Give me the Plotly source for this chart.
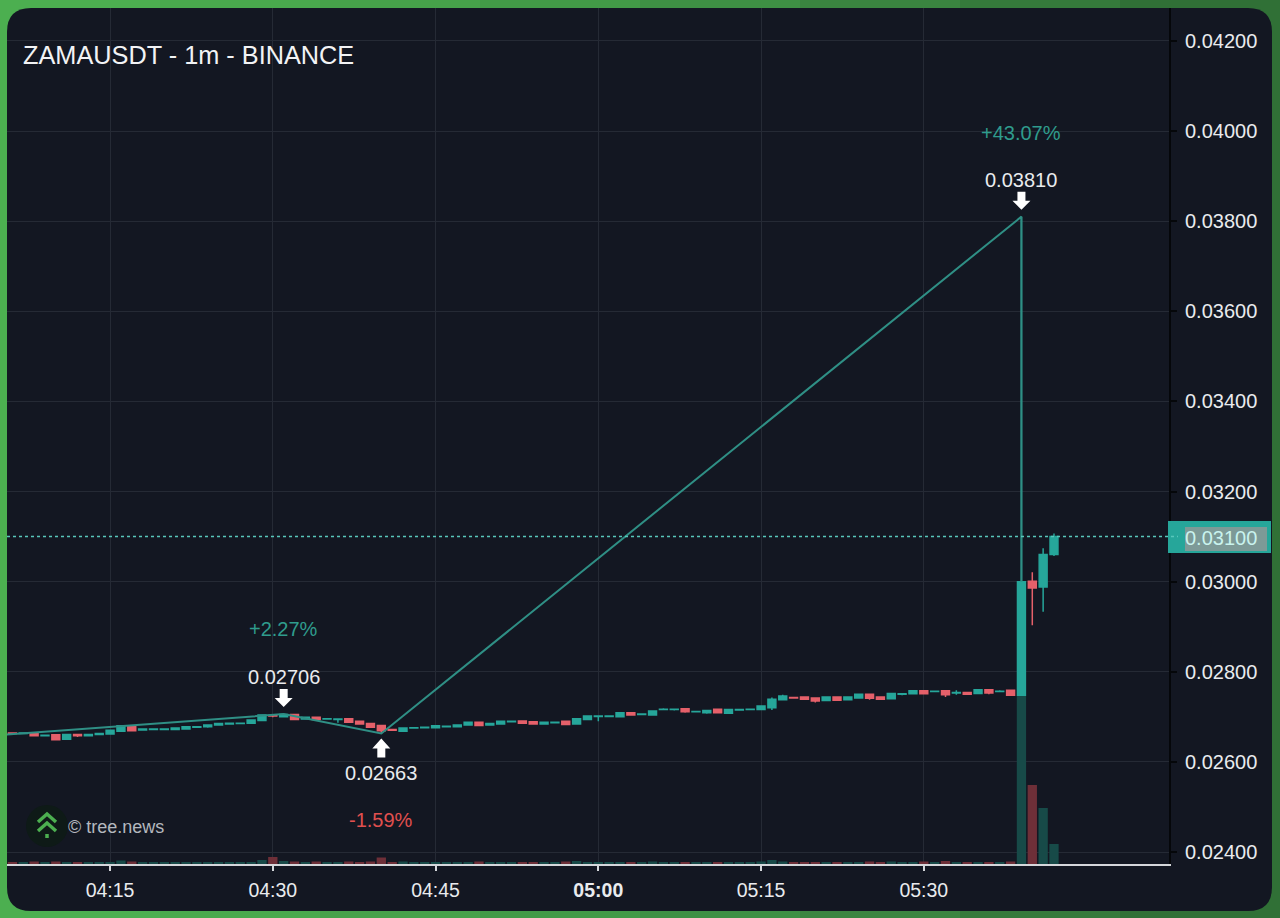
"""ZAMAUSDT 1m chart with zigzag swings, drawn with Plotly."""
from datetime import datetime, timedelta

import plotly.graph_objects as go

#### Data

start_time = datetime(2026, 2, 2, 4, 6)

opens = [
    0.02664, 0.02663, 0.02663, 0.02658, 0.02660, 0.02650, 0.02661, 0.02658, 0.02661, 0.02662,
    0.02668, 0.02678, 0.02671, 0.02672, 0.02672, 0.02672, 0.02673, 0.02677, 0.02678, 0.02682,
    0.02684, 0.02685, 0.02686, 0.02692, 0.02703, 0.02700, 0.02705, 0.02695, 0.02699, 0.02695,
    0.02694, 0.02696, 0.02690, 0.02685, 0.02681, 0.02672, 0.02668, 0.02675, 0.02676, 0.02676,
    0.02678, 0.02678, 0.02682, 0.02688, 0.02682, 0.02684, 0.02689, 0.02691, 0.02689, 0.02684,
    0.02687, 0.02690, 0.02684, 0.02694, 0.02701, 0.02701, 0.02700, 0.02709, 0.02705, 0.02704,
    0.02716, 0.02716, 0.02718, 0.02711, 0.02709, 0.02717, 0.02708, 0.02715, 0.02716, 0.02716,
    0.02720, 0.02738, 0.02743, 0.02744, 0.02742, 0.02736, 0.02744, 0.02738, 0.02742, 0.02750,
    0.02744, 0.02740, 0.02750, 0.02751, 0.02758, 0.02756, 0.02758, 0.02753, 0.02754, 0.02752,
    0.02760, 0.02756, 0.02759, 0.02748, 0.03001, 0.02988, 0.03060,
]
highs = [
    0.02665, 0.02664, 0.02664, 0.02660, 0.02660, 0.02662, 0.02662, 0.02661, 0.02663, 0.02670,
    0.02680, 0.02678, 0.02673, 0.02673, 0.02673, 0.02675, 0.02678, 0.02678, 0.02682, 0.02685,
    0.02686, 0.02686, 0.02693, 0.02704, 0.02706, 0.02706, 0.02705, 0.02699, 0.02699, 0.02696,
    0.02695, 0.02696, 0.02690, 0.02685, 0.02681, 0.02673, 0.02675, 0.02676, 0.02677, 0.02680,
    0.02679, 0.02682, 0.02688, 0.02688, 0.02685, 0.02690, 0.02690, 0.02691, 0.02689, 0.02688,
    0.02688, 0.02690, 0.02696, 0.02702, 0.02702, 0.02702, 0.02709, 0.02709, 0.02706, 0.02713,
    0.02719, 0.02717, 0.02718, 0.02712, 0.02714, 0.02717, 0.02716, 0.02716, 0.02717, 0.02724,
    0.02743, 0.02749, 0.02744, 0.02744, 0.02742, 0.02744, 0.02744, 0.02744, 0.02750, 0.02750,
    0.02744, 0.02752, 0.02751, 0.02758, 0.02758, 0.02757, 0.02758, 0.02759, 0.02754, 0.02760,
    0.02760, 0.02759, 0.02759, 0.03810, 0.03021, 0.03074, 0.03107,
]
lows = [
    0.02662, 0.02662, 0.02657, 0.02658, 0.02648, 0.02649, 0.02655, 0.02658, 0.02661, 0.02662,
    0.02668, 0.02669, 0.02671, 0.02672, 0.02672, 0.02672, 0.02673, 0.02675, 0.02676, 0.02682,
    0.02684, 0.02685, 0.02686, 0.02692, 0.02699, 0.02699, 0.02694, 0.02695, 0.02693, 0.02695,
    0.02687, 0.02688, 0.02684, 0.02677, 0.02663, 0.02669, 0.02668, 0.02675, 0.02676, 0.02676,
    0.02678, 0.02678, 0.02682, 0.02681, 0.02682, 0.02684, 0.02688, 0.02686, 0.02684, 0.02684,
    0.02687, 0.02683, 0.02683, 0.02694, 0.02690, 0.02701, 0.02700, 0.02704, 0.02705, 0.02704,
    0.02716, 0.02714, 0.02709, 0.02710, 0.02707, 0.02709, 0.02708, 0.02715, 0.02716, 0.02716,
    0.02715, 0.02738, 0.02741, 0.02739, 0.02732, 0.02736, 0.02737, 0.02738, 0.02742, 0.02738,
    0.02739, 0.02740, 0.02748, 0.02751, 0.02751, 0.02756, 0.02744, 0.02749, 0.02750, 0.02752,
    0.02750, 0.02756, 0.02748, 0.02748, 0.02903, 0.02933, 0.03057,
]
closes = [
    0.02663, 0.02664, 0.02658, 0.02659, 0.02649, 0.02661, 0.02658, 0.02661, 0.02663, 0.02670,
    0.02680, 0.02669, 0.02673, 0.02673, 0.02673, 0.02675, 0.02678, 0.02678, 0.02682, 0.02685,
    0.02686, 0.02686, 0.02693, 0.02704, 0.02702, 0.02705, 0.02694, 0.02699, 0.02694, 0.02696,
    0.02695, 0.02688, 0.02684, 0.02677, 0.02669, 0.02670, 0.02675, 0.02676, 0.02677, 0.02680,
    0.02679, 0.02682, 0.02688, 0.02681, 0.02685, 0.02690, 0.02690, 0.02686, 0.02684, 0.02688,
    0.02688, 0.02683, 0.02696, 0.02702, 0.02702, 0.02702, 0.02709, 0.02704, 0.02706, 0.02713,
    0.02717, 0.02717, 0.02711, 0.02712, 0.02714, 0.02709, 0.02716, 0.02716, 0.02717, 0.02724,
    0.02739, 0.02746, 0.02742, 0.02739, 0.02735, 0.02744, 0.02737, 0.02744, 0.02750, 0.02741,
    0.02739, 0.02752, 0.02751, 0.02758, 0.02751, 0.02757, 0.02749, 0.02754, 0.02750, 0.02760,
    0.02753, 0.02757, 0.02748, 0.03000, 0.02986, 0.03060, 0.03100,
]
volumes = [
    200, 150, 250, 150, 250, 200, 200, 150, 150, 200,
    350, 250, 150, 150, 200, 150, 150, 150, 200, 150,
    150, 150, 200, 400, 700, 300, 250, 150, 250, 200,
    150, 250, 200, 250, 650, 200, 250, 150, 150, 200,
    150, 150, 200, 250, 150, 200, 150, 200, 200, 150,
    150, 250, 300, 200, 150, 150, 200, 200, 150, 250,
    150, 150, 200, 150, 200, 200, 200, 150, 150, 250,
    400, 250, 200, 200, 200, 200, 200, 200, 200, 250,
    200, 250, 150, 200, 250, 150, 300, 150, 200, 200,
    200, 150, 250, 16850, 7900, 5600, 2000,
]

zigzag_times = [datetime(2026, 2, 2, 4, 5), datetime(2026, 2, 2, 4, 31), datetime(2026, 2, 2, 4, 40),
                datetime(2026, 2, 2, 5, 39), datetime(2026, 2, 2, 5, 39)]
zigzag_prices = [0.02660, 0.02706, 0.02663, 0.03810, 0.03000]

price_ticks = [0.024, 0.026, 0.028, 0.030, 0.032, 0.034, 0.036, 0.038, 0.040, 0.042]
price_labels = ["0.02400", "0.02600", "0.02800", "0.03000", "0.03200",
                "0.03400", "0.03600", "0.03800", "0.04000", "0.04200"]
time_ticks = [datetime(2026, 2, 2, 4, 15), datetime(2026, 2, 2, 4, 30), datetime(2026, 2, 2, 4, 45),
              datetime(2026, 2, 2, 5, 0), datetime(2026, 2, 2, 5, 15), datetime(2026, 2, 2, 5, 30)]
time_labels = ["04:15", "04:30", "04:45", "<b>05:00</b>", "05:15", "05:30"]

last_price = 0.03100
border_greens = ["#4caf50", "#49a94d", "#46a24a", "#429a47", "#3e9044", "#3a8540", "#357a3b", "#307036"]

# swing labels: time, price, text, percent, percent colour, shift of the text, shift of the percent
swings = [
    (datetime(2026, 2, 2, 4, 31), 0.02706, "0.02706", "+2.27%", "#2f9c8d", 37, 85),
    (datetime(2026, 2, 2, 4, 40), 0.02663, "0.02663", "-1.59%", "#e0504f", -39, -86),
    (datetime(2026, 2, 2, 5, 39), 0.03810, "0.03810", "+43.07%", "#2f9c8d", 37, 84),
]

#### Colours
UP = "#26a69a"
DOWN = "#e5606a"
UP_VOL = "#174a48"
DOWN_VOL = "#6e2f38"
PANEL = "#131722"
GRID = "#252a35"
TEXT = "#e9ebee"
FONT = "Liberation Sans"


def px_x(x):
    """pixel de la page -> fraction du tracé"""
    return (x - 7) / 1162


def px_y(y):
    return (864 - y) / 856


def rounded_panel(x0, y0, x1, y1, r):
    """chemin d'un rectangle aux coins arrondis, en fractions du tracé"""
    a, b, c, d = px_x(x0), px_x(x1), px_y(y0), px_y(y1)
    rx, ry = r / 1162, r / 856
    return (f"M{a + rx},{c} L{b - rx},{c} Q{b},{c} {b},{c - ry} L{b},{d + ry} Q{b},{d} {b - rx},{d} "
            f"L{a + rx},{d} Q{a},{d} {a},{d + ry} L{a},{c - ry} Q{a},{c} {a + rx},{c} Z")


def paper_rect(x0, y0, x1, y1, color, layer="below"):
    return dict(type="rect", xref="paper", yref="paper", x0=px_x(x0), x1=px_x(x1),
                y0=px_y(y1), y1=px_y(y0), fillcolor=color, line_width=0, layer=layer)


def paper_line(points, color="#4caf50", width=3.5):
    path = "M" + " L".join(f"{px_x(x)},{px_y(y)}" for x, y in points)
    return dict(type="path", xref="paper", yref="paper", path=path,
                line=dict(color=color, width=width), layer="above")


def arrow(time, price, direction):
    """flèche blanche dont la pointe vise le prix, tailles en pixels"""
    if direction == "down":
        path = "M-4,25 L4,25 L4,16 L9,16 L0,7 L-9,16 L-4,16 Z"
    else:
        path = "M-4,-24 L4,-24 L4,-15 L9,-15 L0,-5 L-9,-15 L-4,-15 Z"
    return dict(type="path", xref="x", yref="y2", xsizemode="pixel", ysizemode="pixel",
                xanchor=time, yanchor=price, path=path, fillcolor="white", line_width=0, layer="above")


def main():
    times = [start_time + timedelta(minutes=i) for i in range(len(opens))]
    vol_colors = [UP_VOL if c >= o else DOWN_VOL for o, c in zip(opens, closes)]

    fig = go.Figure()
    fig.add_trace(go.Bar(x=times, y=volumes, marker_color=vol_colors, marker_line_width=0,
                         width=9.3 / 10.84 * 60000, yaxis="y", hoverinfo="skip"))
    fig.add_trace(go.Candlestick(x=times, open=opens, high=highs, low=lows, close=closes, yaxis="y2",
                                 increasing=dict(line=dict(color=UP, width=1.5), fillcolor=UP),
                                 decreasing=dict(line=dict(color=DOWN, width=1.5), fillcolor=DOWN),
                                 whiskerwidth=0, hoverinfo="skip"))
    fig.add_trace(go.Scatter(x=zigzag_times, y=zigzag_prices, mode="lines", yaxis="y2",
                             line=dict(color="#2f8f85", width=2), hoverinfo="skip"))

    # cadre vert + panneau sombre
    shapes = [paper_rect(i * 160, -5, (i + 1) * 160, 925, col) for i, col in enumerate(border_greens)]
    shapes.append(dict(type="path", xref="paper", yref="paper", path=rounded_panel(7, 8, 1272, 911, 24),
                       fillcolor=PANEL, line_width=0, layer="below"))

    # prix courant
    shapes.append(paper_rect(1168, 521, 1271, 553, UP, layer="above"))
    shapes.append(paper_rect(1185, 527, 1267, 551, "#7d9a97", layer="above"))
    shapes.append(dict(type="line", xref="paper", yref="y2", x0=0, x1=px_x(1178), y0=last_price, y1=last_price,
                       line=dict(color="#58c7bb", width=1.5, dash="3px,3px"), layer="above"))

    # logo
    shapes.append(dict(type="circle", xref="paper", yref="paper", x0=px_x(26), x1=px_x(68),
                       y0=px_y(847), y1=px_y(805), fillcolor="#0e1a17", line_width=0, layer="below"))
    shapes.append(paper_line([(38, 822), (47, 814), (56, 822)]))
    shapes.append(paper_line([(38, 831), (47, 823), (56, 831)]))
    shapes.append(paper_line([(47, 834), (47, 838)]))

    shapes.append(arrow(swings[0][0], swings[0][1], "down"))
    shapes.append(arrow(swings[1][0], swings[1][1], "up"))
    shapes.append(arrow(swings[2][0], swings[2][1], "down"))

    annotations = [
        dict(text="ZAMAUSDT - 1m - BINANCE", xref="paper", yref="paper", x=px_x(21), y=px_y(55),
             xanchor="left", yanchor="middle", showarrow=False, font=dict(size=25.3, color="#f2f3f5", family=FONT)),
        dict(text="© tree.news", xref="paper", yref="paper", x=px_x(66), y=px_y(827),
             xanchor="left", yanchor="middle", showarrow=False, font=dict(size=18, color="#b4b8bf", family=FONT)),
        dict(text="0.03100", xref="paper", yref="paper", x=px_x(1183), y=px_y(538),
             xanchor="left", yanchor="middle", showarrow=False, font=dict(size=20, color="#c9f3ee", family=FONT)),
    ]
    for time, price, label, pct, pct_color, shift, pct_shift in swings:
        annotations.append(dict(text=label, x=time, y=price, xref="x", yref="y2", yshift=shift, showarrow=False,
                                font=dict(size=20, color=TEXT, family=FONT)))
        annotations.append(dict(text=pct, x=time, y=price, xref="x", yref="y2", yshift=pct_shift, showarrow=False,
                                font=dict(size=20, color=pct_color, family=FONT)))

    fig.update_layout(
        width=1280, height=918, margin=dict(l=7, r=111, t=8, b=54),
        paper_bgcolor="#3e9044", plot_bgcolor="rgba(0,0,0,0)",
        showlegend=False, shapes=shapes, annotations=annotations,
        font=dict(family=FONT, size=20, color=TEXT),
        xaxis=dict(type="date", range=[datetime(2026, 2, 2, 4, 5, 30), datetime(2026, 2, 2, 5, 52, 36)],
                   tickmode="array", tickvals=time_ticks, ticktext=time_labels,
                   tickfont=dict(size=19.5),
                   showgrid=True, gridcolor=GRID, gridwidth=1,
                   showline=True, linecolor="#d5d7db", linewidth=2,
                   ticks="outside", ticklen=5, tickcolor="#d5d7db", tickwidth=2,
                   rangeslider=dict(visible=False), fixedrange=True,
                   ticklabelstandoff=3),
        yaxis=dict(range=[0, 85600], visible=False, fixedrange=True),
        yaxis2=dict(overlaying="y", side="right", range=[0.023734, 0.04273],
                    tickmode="array", tickvals=price_ticks, ticktext=price_labels,
                    showgrid=True, gridcolor=GRID, gridwidth=1, zeroline=False,
                    showline=True, linecolor="#05070a", linewidth=2,
                    ticks="outside", ticklen=6, tickcolor="#05070a", tickwidth=2,
                    fixedrange=True, ticklabelstandoff=4),
        boxgap=0.27, boxgroupgap=0, bargap=0.14,
    )
    fig.write_html("out.html", post_script="document.body.style.margin='0';",
                   config=dict(displayModeBar=False))


if __name__ == "__main__":
    main()
